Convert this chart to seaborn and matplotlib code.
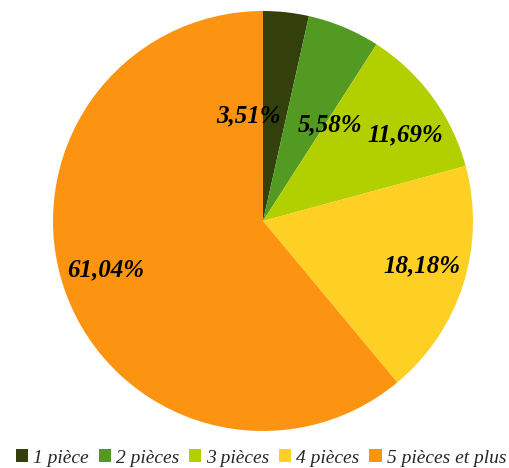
import matplotlib
matplotlib.use("Agg")
import matplotlib.pyplot as plt
from matplotlib.patches import Patch
import seaborn as sns

# Share of dwellings by number of rooms
categories = ["1 pièce", "2 pièces", "3 pièces", "4 pièces", "5 pièces et plus"]
shares = [3.51, 5.58, 11.69, 18.18, 61.04]
colors_hex = ["#33400c", "#539a22", "#b2d000", "#fed023", "#fc9412"]
# label anchor points in pie units (radius = 1)
label_x = [-0.067, 0.319, 0.676, 0.757, -0.748]
label_y = [0.50, 0.457, 0.41, -0.214, -0.233]

sns.set_theme(style="white")
plt.rcParams["font.family"] = ["Liberation Serif", "DejaVu Serif"]

palette = sns.color_palette(colors_hex)

fig = plt.figure(figsize=(5.10, 4.68), dpi=100)
ax = fig.add_axes([53 / 510, 37 / 468, 420 / 510, 420 / 468])

ax.pie(shares, colors=palette, startangle=90, counterclock=False,
       radius=1.0, wedgeprops=dict(linewidth=0))
ax.set_xlim(-1, 1)
ax.set_ylim(-1, 1)
ax.set_aspect("equal")
ax.axis("off")

for v, x, y in zip(shares, label_x, label_y):
    ax.text(x, y, f"{v:.2f}%".replace(".", ","), ha="center", va="center",
            fontsize=18, fontweight="bold", fontstyle="italic", color="black")

handles = [Patch(facecolor=c, edgecolor="none", label=l) for c, l in zip(palette, categories)]
fig.legend(handles=handles, loc="center", bbox_to_anchor=(261 / 510, 1 - 458 / 468),
           ncol=5, frameon=False, prop=dict(family="Liberation Serif", style="italic", size=14),
           handlelength=0.63, handleheight=0.63, handletextpad=0.26,
           columnspacing=0.5, borderaxespad=0, borderpad=0)

fig.savefig("out.png", dpi=100)
